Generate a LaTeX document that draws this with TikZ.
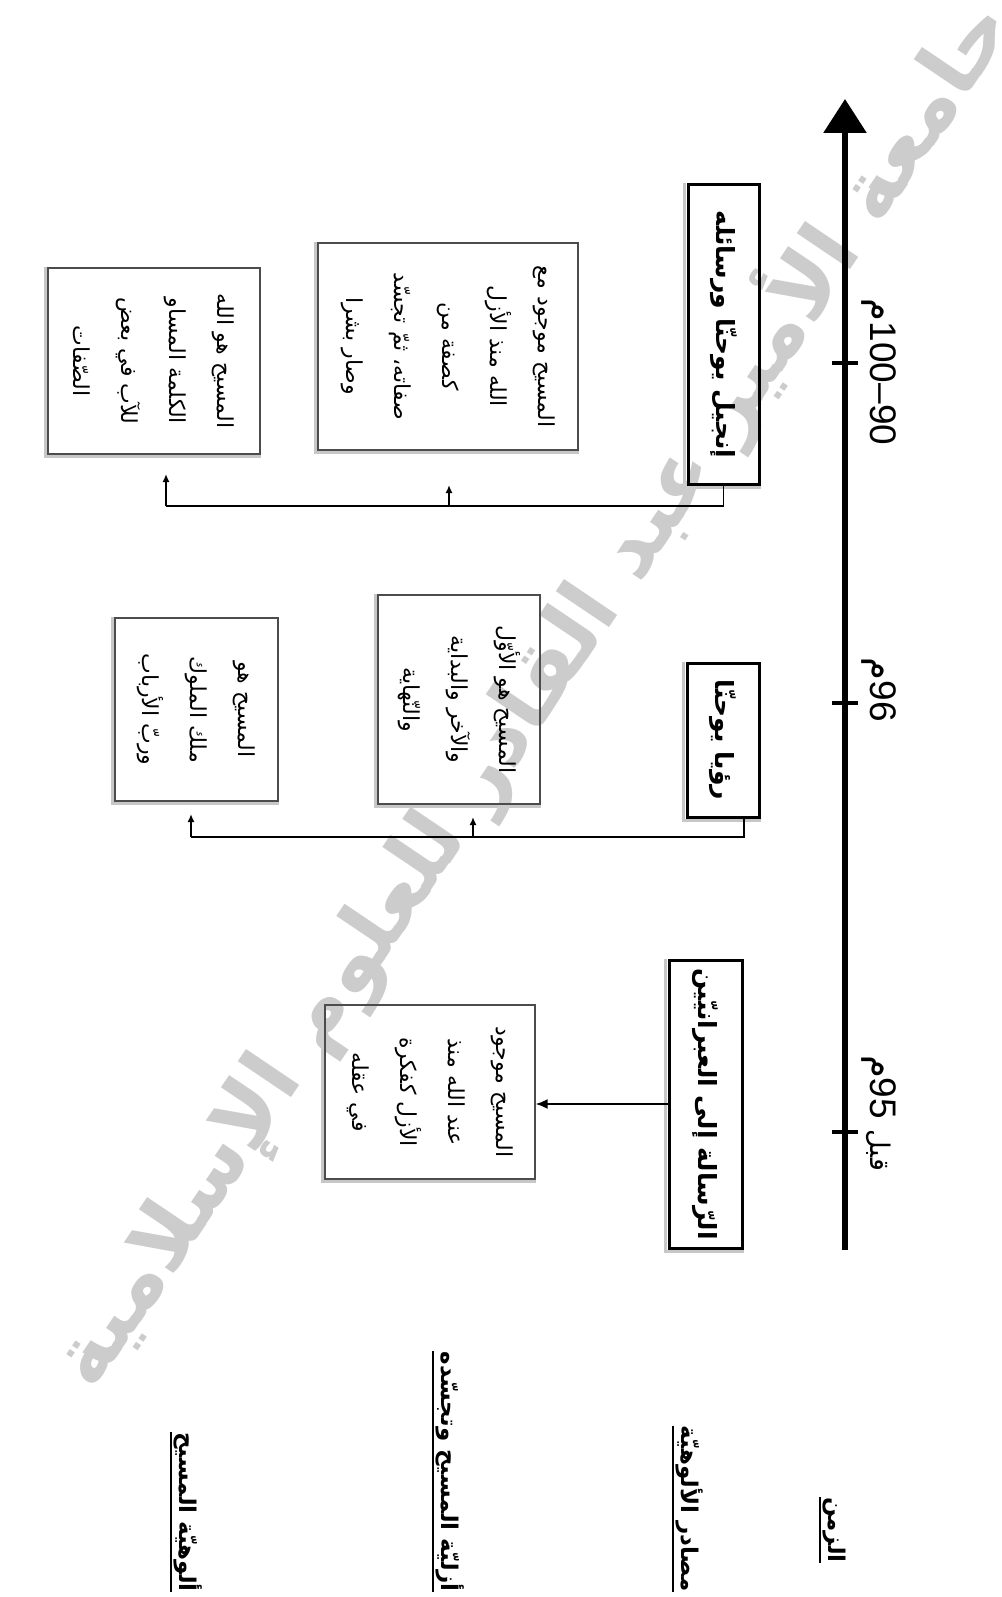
\documentclass[tikz,border=0pt]{standalone}
\usepackage{fontspec}
\TeXXeTstate=1
\newfontfamily\ar[Script=Arabic]{DejaVu Sans}
\newfontfamily\num{Liberation Sans}
\usetikzlibrary{arrows.meta,backgrounds}
\begin{document}
\begin{tikzpicture}[x=1pt,y=-1pt,
  cbox/.style={draw=black!70, line width=1.3pt, rotate=-90, inner sep=0pt, align=center,
    font=\ar\fontsize{22}{48}\selectfont},
  tbox/.style={draw=black, line width=3pt, rotate=-90, inner sep=0pt,
    font=\ar\bfseries\fontsize{25}{30}\selectfont},
  head/.style={rotate=-90, inner sep=0pt, anchor=south east,
    font=\ar\bfseries\fontsize{23}{28}\selectfont},
  lab/.style={rotate=-90, inner sep=0pt, anchor=base, font=\num\fontsize{37}{40}\selectfont},
  conn/.style={line width=1.8pt},
  arr/.style={conn, -{Latex[length=8pt,width=7pt]}},
  arrb/.style={conn, -{Latex[length=12pt,width=10pt]}},
  shd/.style={line width=3pt, draw=black!22},
  tick/.style={line width=4pt}
]
\useasboundingbox (0,0) rectangle (1001,1597);

% watermark
\node[rotate=56, text=black!20, inner sep=0pt] (wm) at (530,692)
  {\resizebox{1650pt}{!}{\ar\bfseries\beginR جامعة الأمير عبد القادر للعلوم الإسلامية\endR}};

% timeline
\coordinate (tl0) at (845,1250);
\coordinate (tl1) at (845,99);
\draw[line width=6pt, -{Triangle[length=34pt,width=42pt]}] (tl0) -- (tl1);
\draw[tick] (832,363) -- (858,363);
\draw[tick] (832,703) -- (858,703);
\draw[tick] (832,1132) -- (858,1132);
\node[lab] (L1) at (870,372) {{\ar م}100–90};
\node[lab] (L2) at (870,690) {{\ar م}96};
\node[lab] (L3) at (870,1113) {{\ar م}95 {\ar\fontsize{27}{30}\selectfont قبل}};

% title boxes
\node[tbox, minimum width=299pt, minimum height=71pt] (tA) at (723.5,334.5)
  {\beginR إنجيل يوحنّا ورسائله\endR};
\node[tbox, minimum width=154pt, minimum height=72pt] (tB) at (723,740)
  {\beginR رؤيا يوحنّا\endR};
\node[tbox, minimum width=288pt, minimum height=73pt] (tC) at (705.5,1104)
  {\beginR الرّسالة إلى العبرانيّين\endR};

% content boxes
\node[cbox, minimum width=207pt, minimum height=260pt] (bA) at (448,346.5)
  {\beginR المسيح موجود مع\endR\\ \beginR الله منذ الأزل\endR\\ \beginR كصفة من\endR\\
   \beginR صفاته، ثمّ تجسّد\endR\\ \beginR وصار بشرا\endR};
\node[cbox, minimum width=186pt, minimum height=212pt] (bB) at (154,361)
  {\beginR المسيح هو الله\endR\\ \beginR الكلمة المساو\endR\\ \beginR للآب في بعض\endR\\
   \beginR الصّفات\endR};
\node[cbox, minimum width=209pt, minimum height=162pt] (bC) at (459,699.5)
  {\beginR المسيح هو الأوّل\endR\\ \beginR والآخر والبداية\endR\\ \beginR والنّهاية\endR};
\node[cbox, minimum width=183pt, minimum height=163pt] (bD) at (196.5,709.5)
  {\beginR المسيح هو\endR\\ \beginR ملك الملوك\endR\\ \beginR وربّ الأرباب\endR};
\node[cbox, minimum width=174pt, minimum height=210pt] (bE) at (430,1092)
  {\beginR المسيح موجود\endR\\ \beginR عند الله منذ\endR\\ \beginR الأزل كفكرة\endR\\
   \beginR في عقله\endR};

% shadows
\begin{pgfonlayer}{background}
\foreach \n in {tA,tB,tC,bA,bB,bC,bD,bE}{
  \draw[shd] ([xshift=-2pt]\n.south west) -- ([xshift=-2pt,yshift=-2pt]\n.south east)
    -- ([yshift=-2pt]\n.north east);
}
\end{pgfonlayer}

% connectors group 1
\coordinate (k1a) at (449,506);
\coordinate (k1b) at (166,506);
\coordinate (a1a) at (449,485);
\coordinate (a1b) at (166,474);
\draw[conn] (tA.east) |- (k1b);
\draw[arr] (k1a) -- (a1a);
\draw[arr] (k1b) -- (a1b);

% connectors group 2
\coordinate (k2a) at (473,837);
\coordinate (k2b) at (191,837);
\coordinate (a2a) at (473,817);
\coordinate (a2b) at (191,814);
\draw[conn] ([xshift=21pt]tB.east) |- (k2b);
\draw[arr] (k2a) -- (a2a);
\draw[arr] (k2b) -- (a2b);

% connector group 3
\draw[arrb] (tC.south) -- (tC.south -| bE.north);

% headings
\node[head] (h1) at (823,1563) {\beginR الزمن\endR};
\node[head] (h2) at (676,1592) {\beginR مصادر الألوهيّة\endR};
\node[head] (h3) at (436,1592) {\beginR أزليّة المسيح وتجسّده\endR};
\node[head] (h4) at (174,1592) {\beginR ألوهيّة المسيح\endR};
\foreach \h in {h1,h2,h3,h4}{
  \draw[conn] ([xshift=-3pt]\h.south west) -- ([xshift=-3pt]\h.south east);
}
\end{tikzpicture}
\end{document}
